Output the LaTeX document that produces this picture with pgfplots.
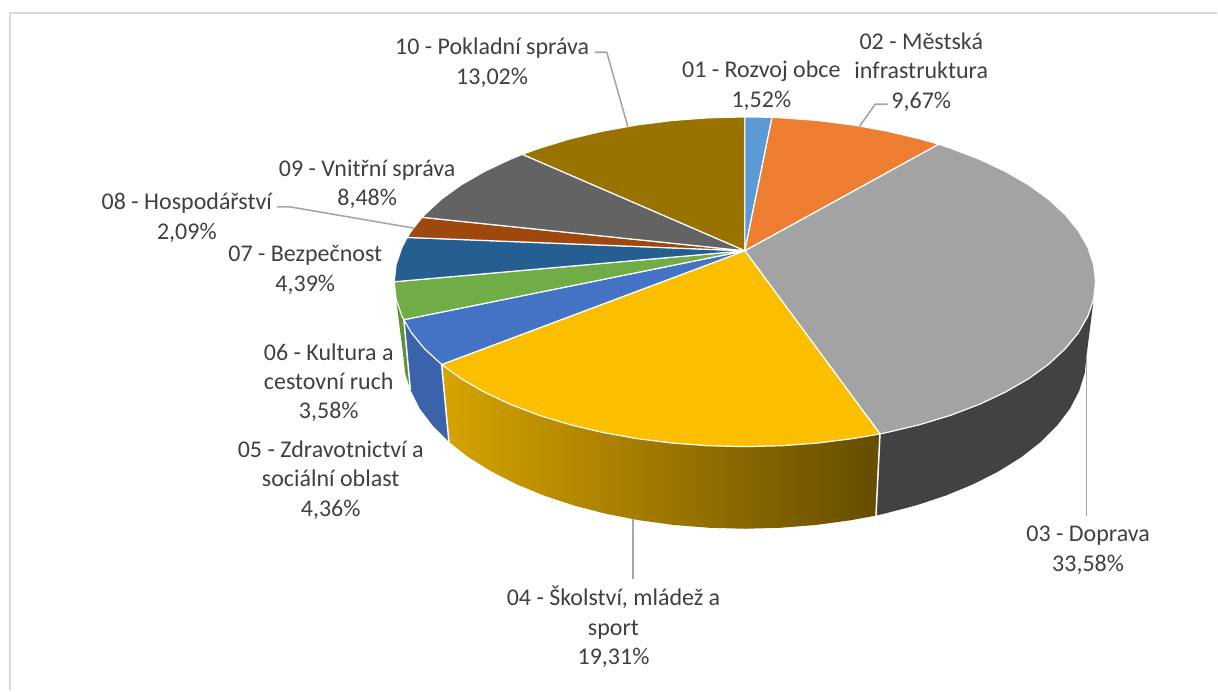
\documentclass[border=0pt]{standalone}
\usepackage{pgfplots}
\pgfplotsset{compat=1.18}
\usepackage{fontspec}
\setmainfont{Carlito}
\definecolor{tx}{HTML}{404040}
\definecolor{ld}{HTML}{A6A6A6}
\definecolor{fr}{HTML}{D9D9D9}
\begin{document}
\begin{tikzpicture}
\begin{axis}[
  scale only axis, width=1218pt, height=691pt,
  xmin=0, xmax=1218, ymin=0, ymax=691, y dir=reverse,
  ticks=none, axis line style={draw=none}, clip=false,
  axis background/.style={fill=white},
  every axis plot/.append style={line join=round},
  nodes={font=\fontsize{24}{29.5}\selectfont, text=tx, align=center, anchor=center, inner sep=0pt},
]
% frame
\addplot[fr, line width=2pt] coordinates {(10.3,691) (10.3,13) (1218,13)};
% wall 03
\addplot[fill={rgb,255:red,66;green,66;blue,66}, draw=none] coordinates {(880.7,434.3) (888.3,432.7) (921.0,424.9) (951.8,415.5) (980.4,404.6) (1006.3,392.4) (1029.5,379.0) (1049.5,364.5) (1066.1,349.1) (1079.3,333.0) (1088.8,316.3) (1094.6,299.2) (1087.5,355.2) (1085.6,373.4) (1080.0,391.4) (1070.8,409.0) (1057.9,426.0) (1041.7,442.2) (1022.2,457.5) (999.6,471.6) (974.3,484.5) (946.5,496.0) (916.5,505.9) (884.6,514.2) (876.7,516)} --cycle;
% wall 04 (horizontal gradient)
\addplot[left color={rgb,255:red,214;green,163;blue,0}, right color={rgb,255:red,101;green,76;blue,0}, draw=none] coordinates {(442,364.8) (461.5,379.0) (484.7,392.4) (510.6,404.6) (539.2,415.5) (570.0,424.9) (602.7,432.7) (637.0,438.9) (672.5,443.4) (708.8,446.1) (745.5,447) (782.2,446.1) (818.5,443.4) (854.0,438.9) (880.7,434.3) (876.7,516) (851.2,520.7) (816.6,525.4) (781.2,528.2) (745.5,529.2) (709.8,528.2) (674.4,525.4) (639.8,520.7) (606.4,514.2) (574.5,505.9) (544.5,496.0) (516.7,484.5) (491.4,471.6) (468.8,457.5) (449.3,442.2)} --cycle;
% wall 06
\addplot[fill={rgb,255:red,94;green,147;blue,56}, draw=none] coordinates {(404.2,320) (402.2,316.3) (396.4,299.2) (403.5,355.2) (405.4,373.4) (411,391.4)} --cycle;
% wall 05
\addplot[fill={rgb,255:red,59;green,99;blue,172}, draw=none] coordinates {(442,364.8) (424.9,349.1) (411.7,333.0) (404.2,320) (410.7,390) (420.2,409.0) (433.1,426.0) (449.3,442.2)} --cycle;
% wall edges
\addplot[white, line width=1.5pt] coordinates {(880.7,434.3) (876.7,516)};
\addplot[white, line width=1.5pt] coordinates {(442,364.8) (449.3,442.2)};
\addplot[white, line width=1.5pt] coordinates {(404.2,320) (410.7,390)};
% top slices
\addplot[fill={rgb,255:red,153;green,115;blue,0}, draw=white, line width=1.2pt] coordinates {(745.5,251) (745.5,117) (708.8,117.9) (672.5,120.6) (637.0,125.1) (602.7,131.3) (570.0,139.1) (539.2,148.5) (522.6,154.5)} --cycle;
\addplot[fill={rgb,255:red,91;green,155;blue,213}, draw=white, line width=1.2pt] coordinates {(745.5,251) (772.7,117.4) (745.5,117)} --cycle;
\addplot[fill={rgb,255:red,237;green,125;blue,49}, draw=white, line width=1.2pt] coordinates {(745.5,251) (772.7,117.4) (782.2,117.9) (818.5,120.6) (854.0,125.1) (888.3,131.3) (921.0,139.1) (939.7,144.3)} --cycle;
\addplot[fill={rgb,255:red,163;green,163;blue,163}, draw=white, line width=1.2pt] coordinates {(745.5,251) (939.7,144.3) (951.8,148.5) (980.4,159.4) (1006.3,171.6) (1029.5,185.0) (1049.5,199.5) (1066.1,214.9) (1079.3,231.0) (1088.8,247.7) (1094.6,264.8) (1096.5,282) (1094.6,299.2) (1088.8,316.3) (1079.3,333.0) (1066.1,349.1) (1049.5,364.5) (1029.5,379.0) (1006.3,392.4) (980.4,404.6) (951.8,415.5) (921.0,424.9) (888.3,432.7) (880.7,434.3)} --cycle;
\addplot[fill={rgb,255:red,251;green,191;blue,0}, draw=white, line width=1.2pt] coordinates {(745.5,251) (880.7,434.3) (854.0,438.9) (818.5,443.4) (782.2,446.1) (745.5,447) (708.8,446.1) (672.5,443.4) (637.0,438.9) (602.7,432.7) (570.0,424.9) (539.2,415.5) (510.6,404.6) (484.7,392.4) (461.5,379.0) (442,364.8)} --cycle;
\addplot[fill={rgb,255:red,68;green,114;blue,196}, draw=white, line width=1.2pt] coordinates {(745.5,251) (442,364.8) (424.9,349.1) (411.7,333.0) (404.2,320)} --cycle;
\addplot[fill={rgb,255:red,112;green,173;blue,71}, draw=white, line width=1.2pt] coordinates {(745.5,251) (404.2,320) (402.2,316.3) (396.4,299.2) (394.5,282)} --cycle;
\addplot[fill={rgb,255:red,37;green,94;blue,145}, draw=white, line width=1.2pt] coordinates {(745.5,251) (394.5,282) (396.4,264.8) (402.2,247.7) (407.5,237.6)} --cycle;
\addplot[fill={rgb,255:red,158;green,72;blue,14}, draw=white, line width=1.2pt] coordinates {(745.5,251) (407.5,237.6) (411.7,231.0) (422.4,217.5)} --cycle;
\addplot[fill={rgb,255:red,99;green,99;blue,99}, draw=white, line width=1.2pt] coordinates {(745.5,251) (422.4,217.5) (424.9,214.9) (441.5,199.5) (461.5,185.0) (484.7,171.6) (510.6,159.4) (522.6,154.5)} --cycle;
% leader lines
\addplot[ld, line width=1.6pt] coordinates {(595,52.3) (607.3,52.3) (628.3,126.7)};
\addplot[ld, line width=1.6pt] coordinates {(888.3,104.3) (876,104.3) (860,126.7)};
\addplot[ld, line width=1.6pt] coordinates {(1087.3,356.7) (1087.3,516.7)};
\addplot[ld, line width=1.6pt] coordinates {(633.3,519) (633.3,579)};
\addplot[ld, line width=1.6pt] coordinates {(277.3,207) (290,207) (414,228.3)};
% labels
\node at (axis cs:492.5,63) {10 - Pokladní správa\\13,02\%};
\node at (axis cs:762,86) {01 - Rozvoj obce\\1,52\%};
\node at (axis cs:922,72) {02 - Městská\\infrastruktura\\9,67\%};
\node at (axis cs:367.5,184.5) {09 - Vnitřní správa\\8,48\%};
\node at (axis cs:187,218) {08 - Hospodářství\\2,09\%};
\node at (axis cs:305.5,270) {07 - Bezpečnost\\4,39\%};
\node at (axis cs:329,383) {06 - Kultura a\\cestovní ruch\\3,58\%};
\node at (axis cs:331,480.5) {05 - Zdravotnictví a\\sociální oblast\\4,36\%};
\node at (axis cs:614,627.5) {04 - Školství, mládež a\\sport\\19,31\%};
\node at (axis cs:1089,550.5) {03 - Doprava\\33,58\%};
\end{axis}
\end{tikzpicture}
\end{document}
